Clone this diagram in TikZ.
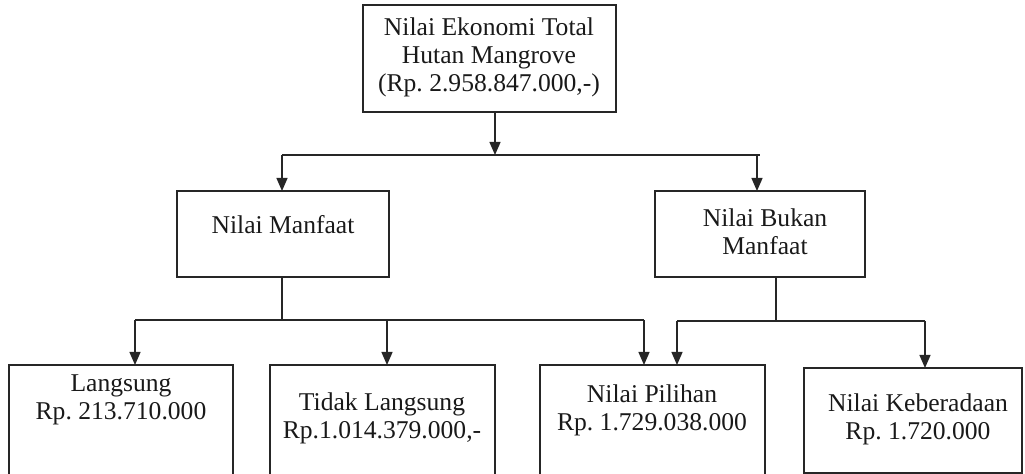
\documentclass[tikz,border=0pt]{standalone}
\usepackage{fontspec}
\setmainfont{Liberation Serif}
\usetikzlibrary{arrows.meta}
\frenchspacing
\begin{document}
\begin{tikzpicture}[
  x=0.5pt, y=-0.5pt,
  font=\fontsize{12.8}{14}\selectfont,
  box/.style={draw,black!85,line width=0.65pt,inner sep=0pt,outer sep=0pt},
  txt/.style={align=center,inner sep=0pt,text=black!90},
  link/.style={draw,black!85,line width=0.65pt},
  arr/.style={link,-{Triangle[width=5.5pt,length=6.5pt]}}]
\useasboundingbox (0,0) rectangle (1025,474);
% kotak
\node[box,minimum width=126.5pt,minimum height=53.5pt] (total) at (489.5,58.5) {};
\node[box,minimum width=106pt,minimum height=43pt] (manfaat) at (283,234) {};
\node[box,minimum width=105pt,minimum height=43pt] (bukan) at (760,234) {};
\node[box,minimum width=112pt,minimum height=57.5pt] (langsung) at (121,422.5) {};
\node[box,minimum width=112.5pt,minimum height=57.5pt] (tidak) at (382.5,422.5) {};
\node[box,minimum width=112.5pt,minimum height=57.5pt] (pilihan) at (652.5,422.5) {};
\node[box,minimum width=109pt,minimum height=52.5pt] (ada) at (913,420.5) {};
% teks
\node[txt] (totaltxt) at (489,57) {Nilai Ekonomi Total\\Hutan Mangrove\\(Rp. 2.958.847.000,-)};
\node[txt] (manfaattxt) at (283,225) {Nilai Manfaat};
\node[txt] (bukantxt) at (765,231.5) {Nilai Bukan\\Manfaat};
\node[txt] (langsungtxt) at (121,400) {Langsung\\Rp. 213.710.000};
\node[txt] (tidaktxt) at (382,418.5) {Tidak Langsung\\Rp.1.014.379.000,-};
\node[txt] (pilihantxt) at (652,410) {Nilai Pilihan\\Rp. 1.729.038.000};
\node[txt] (adatxt) at (918,419) {Nilai Keberadaan\\Rp. 1.720.000};
% garis
\coordinate (j0) at (495,155);
\coordinate (j0l) at (282,155);
\coordinate (j0r) at (757,155);
\coordinate (j0e) at (760,155);
\draw[arr] (j0 |- total.south) -- (j0);
\draw[link] (j0l) -- (j0e);
\draw[arr] (j0l) -- (j0l |- manfaat.north);
\draw[arr] (j0r) -- (j0r |- bukan.north);
\coordinate (j1) at (282,320);
\coordinate (j1a) at (135,320);
\coordinate (j1b) at (387,320);
\coordinate (j1c) at (644,320);
\draw[link] (j1 |- manfaat.south) -- (j1);
\draw[link] (j1a) -- (j1c);
\draw[arr] (j1a) -- (j1a |- langsung.north);
\draw[arr] (j1b) -- (j1b |- tidak.north);
\draw[arr] (j1c) -- (j1c |- pilihan.north);
\coordinate (j2) at (776,321);
\coordinate (j2a) at (677,321);
\coordinate (j2b) at (925,321);
\draw[link] (j2 |- bukan.south) -- (j2);
\draw[link] (j2a) -- (j2b);
\draw[arr] (j2a) -- (j2a |- pilihan.north);
\draw[arr] (j2b) -- (j2b |- ada.north);
\end{tikzpicture}
\end{document}
